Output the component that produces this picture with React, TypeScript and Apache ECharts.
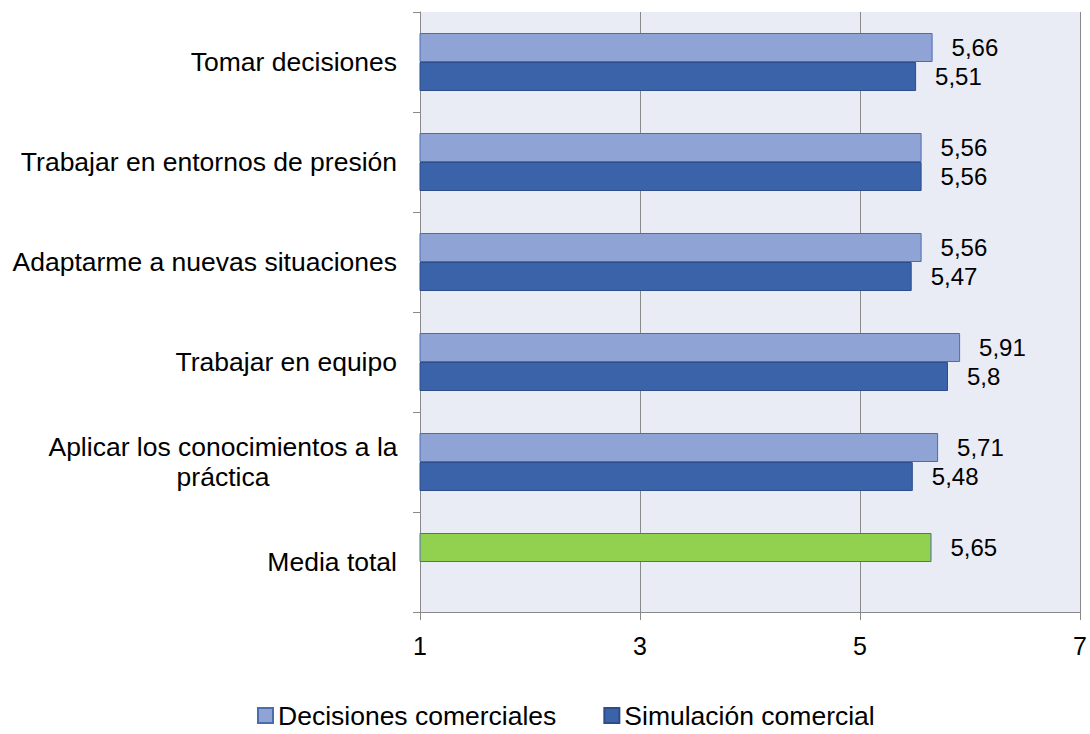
import React, { useEffect, useRef } from "react";
import * as echarts from "echarts";

const categories = [
  "Tomar decisiones",
  "Trabajar en entornos de presión",
  "Adaptarme a nuevas situaciones",
  "Trabajar en equipo",
  "Aplicar los conocimientos a la\npráctica",
  "Media total",
];
const decisionesComerciales = [5.66, 5.56, 5.56, 5.91, 5.71, 5.65];
const simulacionComercial: (number | null)[] = [5.51, 5.56, 5.47, 5.8, 5.48, null];
const xTicks = { min: 1, max: 7, interval: 2 };

const FONT = "'Liberation Sans', Arial, sans-serif";
const fmt = (v: number) => String(v).replace(".", ",");

export default function App() {
  const ref = useRef<HTMLDivElement>(null);
  useEffect(() => {
    if (!ref.current) return;
    const chart = echarts.init(ref.current, undefined, { renderer: "svg" });
    const lastIdx = categories.length - 1;
    chart.setOption({
      animation: false,
      textStyle: { fontFamily: FONT },
      grid: {
        left: 420,
        right: 10,
        top: 12,
        bottom: 122,
        containLabel: false,
        show: true,
        backgroundColor: "#e9ebf5",
        borderWidth: 0,
      },
      legend: {
        left: 257,
        top: 702,
        padding: 0,
        itemWidth: 15,
        itemHeight: 15,
        itemGap: 47,
        icon: "rect",
        textStyle: { fontFamily: FONT, fontSize: 26.5, color: "#000" },
        data: ["Decisiones comerciales", "Simulación comercial"],
      },
      xAxis: {
        type: "value",
        min: xTicks.min,
        max: xTicks.max,
        interval: xTicks.interval,
        axisLine: { show: true, lineStyle: { color: "#898989", width: 1 } },
        axisTick: { show: true, length: 8, lineStyle: { color: "#898989" } },
        splitLine: { show: true, lineStyle: { color: "#898989", width: 1 } },
        axisLabel: { fontFamily: FONT, fontSize: 25, color: "#000", margin: 21 },
      },
      yAxis: {
        type: "category",
        inverse: true,
        data: categories,
        axisLine: { show: true, lineStyle: { color: "#898989", width: 1 } },
        axisTick: { show: true, length: 7, lineStyle: { color: "#898989" } },
        axisLabel: {
          fontFamily: FONT,
          fontSize: 26.5,
          color: "#000",
          margin: 23,
          formatter: (v: string) =>
            v.includes("\n")
              ? v
                  .split("\n")
                  .map((l) => `{c|${l}}`)
                  .join("\n")
              : v,
          rich: {
            c: {
              fontFamily: FONT,
              fontSize: 26.5,
              color: "#000",
              width: 348,
              align: "center",
              lineHeight: 30,
            },
          },
        },
      },
      series: [
        {
          name: "Decisiones comerciales",
          type: "bar",
          barWidth: 29,
          barGap: "0%",
          itemStyle: { color: "#8fa4d4", borderColor: "#4a6db0", borderWidth: 1 },
          label: {
            show: true,
            position: "right",
            distance: 19,
            fontFamily: FONT,
            fontSize: 24,
            color: "#000",
            formatter: (p: any) => fmt(p.value),
          },
          data: decisionesComerciales.map((v, i) =>
            i === lastIdx
              ? { value: v, itemStyle: { color: "#92d050", borderColor: "#4a6db0", borderWidth: 1 } }
              : v
          ),
        },
        {
          name: "Simulación comercial",
          type: "bar",
          barWidth: 29,
          barGap: "0%",
          itemStyle: { color: "#3a63aa", borderColor: "#2c4d8a", borderWidth: 1 },
          label: {
            show: true,
            position: "right",
            distance: 19,
            fontFamily: FONT,
            fontSize: 24,
            color: "#000",
            formatter: (p: any) => (p.value == null ? "" : fmt(p.value)),
          },
          data: simulacionComercial,
        },
      ],
    });
    return () => chart.dispose();
  }, []);
  return (
    <div
      ref={ref}
      style={{ position: "fixed", left: 0, top: 0, width: 1090, height: 734, background: "#fff" }}
    />
  );
}
